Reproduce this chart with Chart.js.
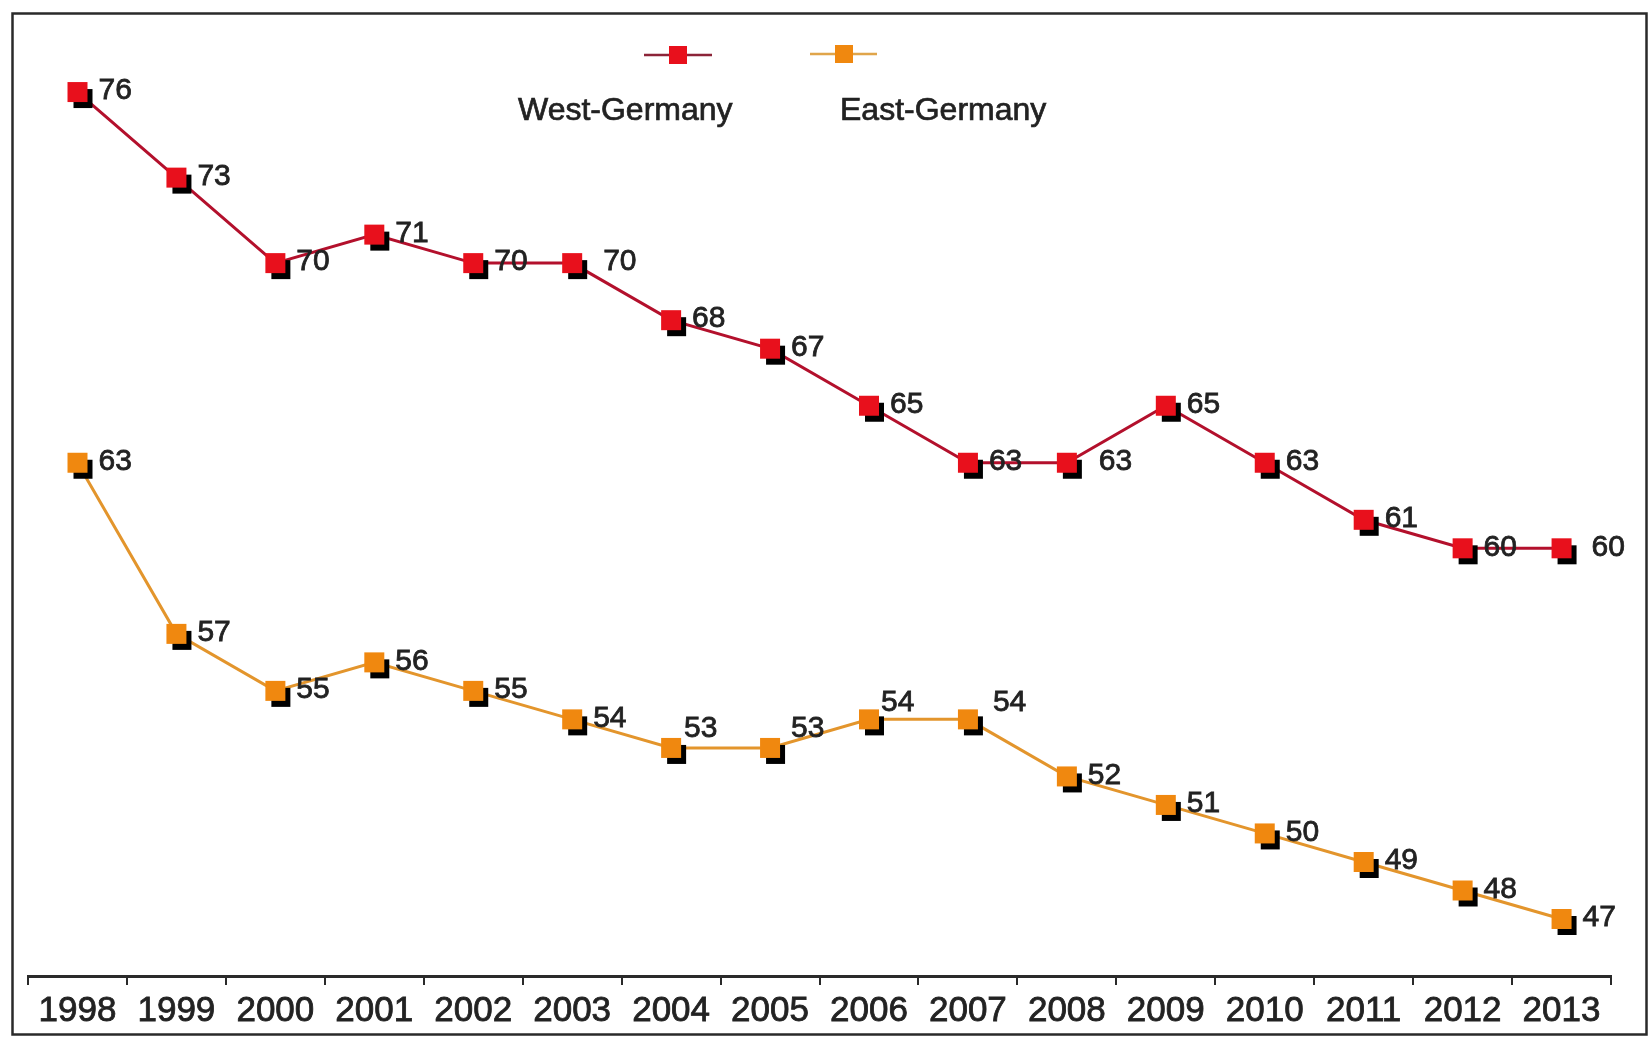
<!DOCTYPE html>
<html>
<head>
<meta charset="utf-8">
<script src="https://cdn.jsdelivr.net/npm/chart.js@4.4.1/dist/chart.umd.min.js"></script>
<style>
  html, body { margin: 0; padding: 0; background: #ffffff; }
  #wrap { width: 1652px; height: 1038px; }
</style>
</head>
<body>
<div id="wrap"><canvas id="chart" width="1652" height="1038"></canvas></div>
<script>
// Survey years on the category axis
const years = ['1998', '1999', '2000', '2001', '2002', '2003', '2004', '2005',
               '2006', '2007', '2008', '2009', '2010', '2011', '2012', '2013'];

// Percentages per year
const westGermany = [76, 73, 70, 71, 70, 70, 68, 67, 65, 63, 63, 65, 63, 61, 60, 60];
const eastGermany = [63, 57, 55, 56, 55, 54, 53, 53, 54, 54, 52, 51, 50, 49, 48, 47];

const seriesNames = ['West-Germany', 'East-Germany'];

// Value-label nudges (px from the marker centre), keyed by year index
const westLabelNudge = { 5: [31, -1], 10: [32, -1], 15: [30, -1] };
const eastLabelNudge = { 6: [13, -19], 7: [21, -19], 8: [12, -17], 9: [25, -17] };

const FONT = "'Liberation Sans', Arial, Helvetica, sans-serif";
const TEXT = '#222222';
const WEST_FILL = '#e8101c', WEST_LINE = '#b3102c', WEST_KEY = '#8c2438';
const EAST_FILL = '#f0880f', EAST_LINE = '#e3952c', EAST_KEY = '#e0a54a';

// Square marker with a black drop shadow to the lower right
function marker(fill) {
  const c = document.createElement('canvas');
  c.width = 48; c.height = 48;
  const g = c.getContext('2d');
  const s = 20, o = 24 - s / 2;
  g.fillStyle = '#000000';
  g.fillRect(o + 6, o + 7, s - 1, s - 1);
  g.fillStyle = fill;
  g.fillRect(o, o, s, s);
  return c;
}

const framePlugin = {
  id: 'frame',
  beforeDraw(chart) {
    const ctx = chart.ctx;
    ctx.save();
    ctx.fillStyle = '#ffffff';
    ctx.fillRect(0, 0, chart.width, chart.height);
    ctx.strokeStyle = '#2a2a2a';
    ctx.lineWidth = 2.5;
    ctx.strokeRect(12.5, 13.5, 1634, 1021);
    ctx.restore();
  }
};

const keyPlugin = {
  id: 'keyBox',
  afterDraw(chart) {
    const ctx = chart.ctx;
    const items = [
      { name: seriesNames[0], line: WEST_KEY, fill: WEST_FILL, x0: 644, x1: 712, cx: 678, cy: 55, tx: 518 },
      { name: seriesNames[1], line: EAST_KEY, fill: EAST_FILL, x0: 810, x1: 877, cx: 844, cy: 54, tx: 840 }
    ];
    ctx.save();
    items.forEach(it => {
      ctx.strokeStyle = it.line;
      ctx.lineWidth = 2.5;
      ctx.beginPath();
      ctx.moveTo(it.x0, it.cy);
      ctx.lineTo(it.x1, it.cy);
      ctx.stroke();
      ctx.fillStyle = it.fill;
      ctx.fillRect(it.cx - 9, it.cy - 9, 18, 18);
      ctx.fillStyle = TEXT;
      ctx.strokeStyle = TEXT;
      ctx.lineWidth = 0.7;
      ctx.font = '32px ' + FONT;
      ctx.textAlign = 'left';
      ctx.textBaseline = 'middle';
      ctx.fillText(it.name, it.tx, 111);
      ctx.strokeText(it.name, it.tx, 111);
    });
    ctx.restore();
  }
};

const valueLabelPlugin = {
  id: 'valueLabels',
  afterDatasetsDraw(chart) {
    const ctx = chart.ctx;
    const nudges = [westLabelNudge, eastLabelNudge];
    ctx.save();
    ctx.font = '30px ' + FONT;
    ctx.fillStyle = TEXT;
    ctx.strokeStyle = TEXT;
    ctx.lineWidth = 0.8;
    ctx.textAlign = 'left';
    ctx.textBaseline = 'middle';
    chart.data.datasets.forEach((ds, di) => {
      const meta = chart.getDatasetMeta(di);
      meta.data.forEach((pt, i) => {
        const n = nudges[di][i] || [21, -1];
        const t = String(ds.data[i]);
        ctx.fillText(t, pt.x + n[0], pt.y + n[1]);
        ctx.strokeText(t, pt.x + n[0], pt.y + n[1]);
      });
    });
    ctx.restore();
  }
};

new Chart(document.getElementById('chart'), {
  type: 'line',
  data: {
    labels: years,
    datasets: [
      {
        label: seriesNames[0],
        data: westGermany,
        borderColor: WEST_LINE,
        borderWidth: 3,
        tension: 0,
        pointStyle: marker(WEST_FILL),
        pointRadius: 10
      },
      {
        label: seriesNames[1],
        data: eastGermany,
        borderColor: EAST_LINE,
        borderWidth: 3,
        tension: 0,
        pointStyle: marker(EAST_FILL),
        pointRadius: 10
      }
    ]
  },
  options: {
    responsive: false,
    animation: false,
    layout: { padding: { left: 28, right: 41, top: 35, bottom: 1 } },
    plugins: {
      legend: { display: false },
      tooltip: { enabled: false }
    },
    scales: {
      y: { display: false, min: 45, max: 78 },
      x: {
        offset: true,
        grid: {
          offset: true,
          drawOnChartArea: false,
          drawTicks: true,
          tickLength: 9,
          color: '#2a2a2a',
          lineWidth: 2
        },
        border: { display: true, color: '#2a2a2a', width: 3 },
        ticks: {
          autoSkip: false,
          maxRotation: 0,
          padding: 5,
          color: TEXT,
          textStrokeColor: TEXT,
          textStrokeWidth: 0.8,
          font: { family: FONT, size: 35 }
        }
      }
    }
  },
  plugins: [framePlugin, valueLabelPlugin, keyPlugin]
});
</script>
</body>
</html>
